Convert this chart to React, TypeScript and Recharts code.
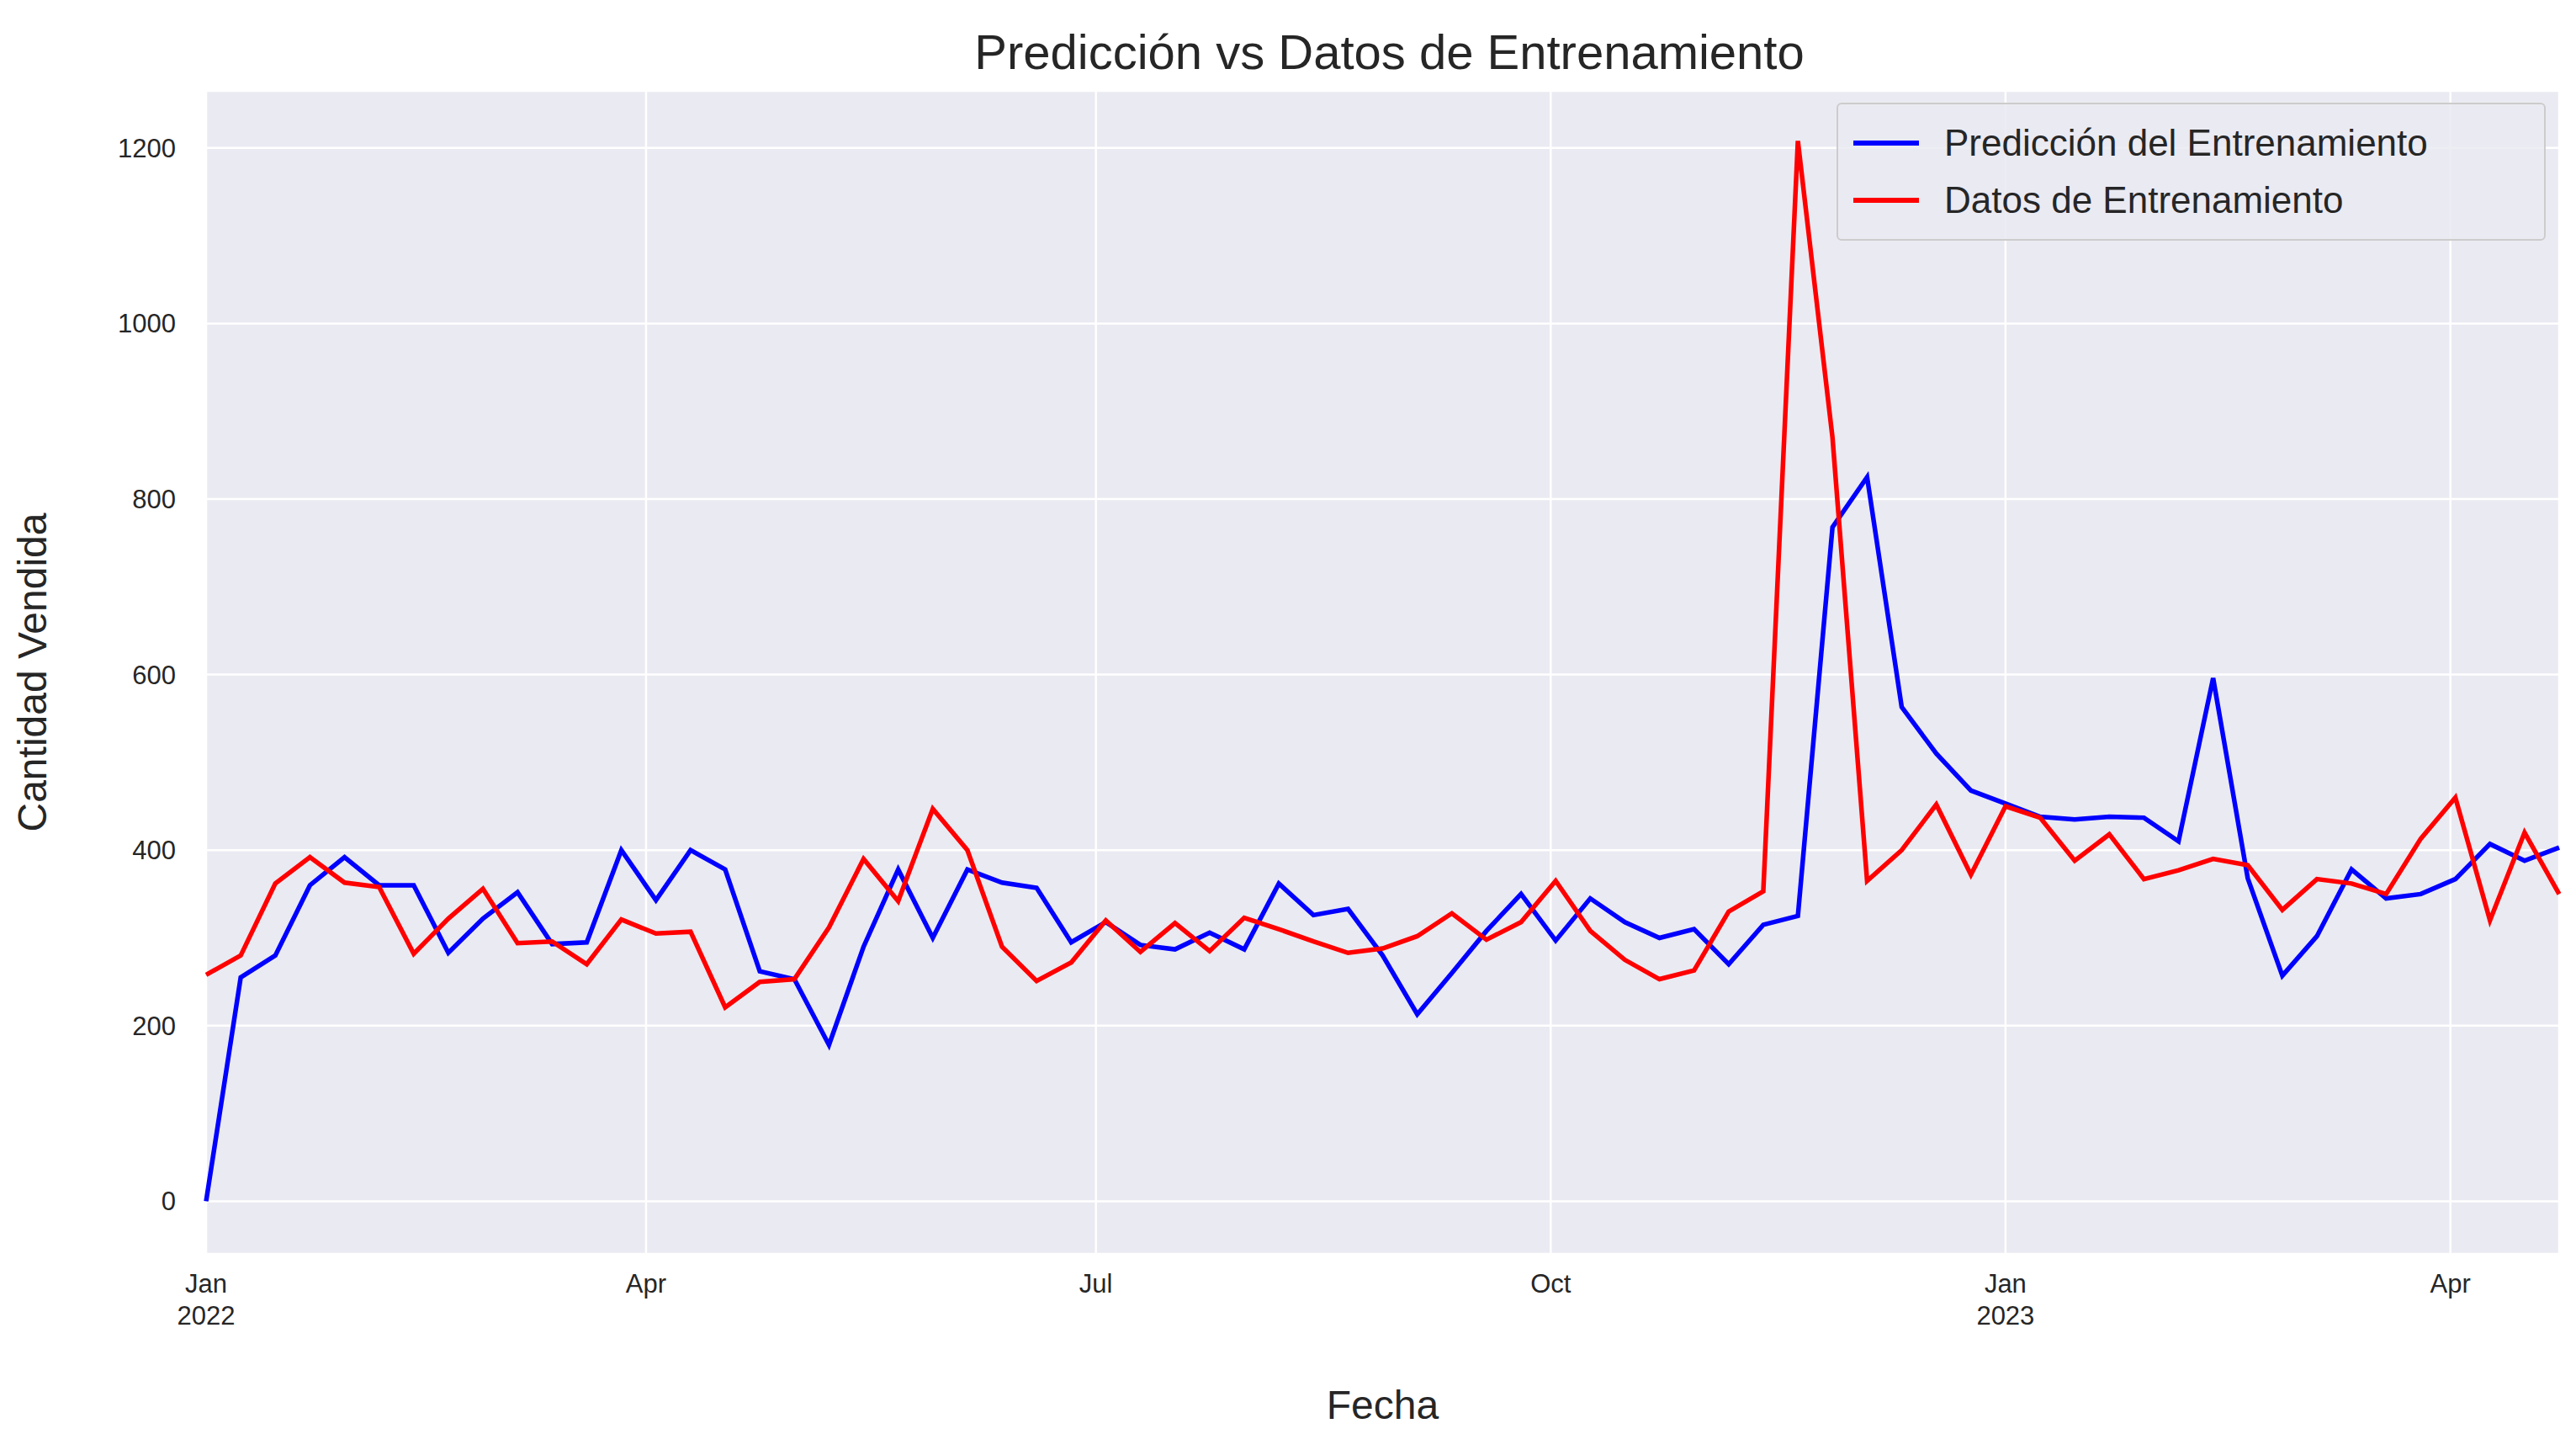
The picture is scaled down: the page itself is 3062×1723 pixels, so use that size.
import React from "react";
import { LineChart, Line, XAxis, YAxis, CartesianGrid, Label } from "recharts";

const predValues = [0,255,280,360,392,360,360,283,322,352,293,295,400,343,400,378,262,253,178,290,378,300,378,363,357,295,318,292,287,306,287,362,326,333,280,213,260,308,350,297,345,318,300,310,270,315,325,768,825,563,510,468,453,438,435,438,437,410,596,368,257,302,378,345,350,367,407,388,403];
const trainValues = [258,280,362,392,363,358,282,322,356,294,296,270,321,305,307,221,250,253,312,390,342,447,400,290,251,272,320,284,317,285,323,310,296,283,288,302,328,298,318,365,308,275,253,263,330,353,1208,870,365,400,452,372,450,437,388,418,367,377,390,383,332,367,362,350,413,460,320,420,350];
// days since 2022-01-01, weekly from 2022-01-02
const days = predValues.map((_, i) => 1 + 7 * i);
const xTicks = [1, 90, 181, 273, 365, 455];
const xTickLabels = ["Jan|2022", "Apr", "Jul", "Oct", "Jan|2023", "Apr"];
const yTicks = [0, 200, 400, 600, 800, 1000, 1200];

const data = days.map((d, i) => ({ d, pred: predValues[i], train: trainValues[i] }));
const FONT = "'Liberation Sans', Arial, sans-serif";
const TXT = "#262626";

const XTick = (props: any) => {
  const { x, y, payload } = props;
  const idx = xTicks.indexOf(payload.value);
  const parts = (xTickLabels[idx] || "").split("|");
  return (
    <text x={x} y={y + 38} textAnchor="middle" fill={TXT} fontSize={31} fontFamily={FONT}>
      {parts.map((p, i) => (
        <tspan key={i} x={x} dy={i === 0 ? 0 : 38}>{p}</tspan>
      ))}
    </text>
  );
};

export default function App() {
  return (
    <div style={{ position: "relative", width: 3046, height: 1700 }}>
      <div style={{ position: "absolute", top: 20, left: 245, width: 2797, textAlign: "center", fontFamily: FONT, fontSize: 58, color: TXT }}>
        Predicción vs Datos de Entrenamiento
      </div>
      <LineChart width={3046} height={1700} data={data} margin={{ top: 100, right: 12, left: 0, bottom: 0 }}>
        <CartesianGrid fill="#EAEAF2" stroke="#ffffff" strokeWidth={2.5} />
        <XAxis dataKey="d" type="number" domain={[1, 477]} ticks={xTicks} tick={<XTick />} axisLine={false} tickLine={false} height={218} interval={0}>
          <Label value="Fecha" position="insideBottom" offset={22} fill={TXT} fontSize={48} fontFamily={FONT} />
        </XAxis>
        <YAxis type="number" domain={[-60, 1265]} ticks={yTicks} width={237} axisLine={false} tickLine={false} tickMargin={30} tick={{ fill: TXT, fontSize: 31, fontFamily: FONT }}>
          <Label value="Cantidad Vendida" angle={-90} position="insideLeft" offset={30} fill={TXT} fontSize={48} fontFamily={FONT} style={{ textAnchor: "middle" }} />
        </YAxis>
        <Line dataKey="pred" stroke="blue" strokeWidth={5.5} dot={false} isAnimationActive={false} />
        <Line dataKey="train" stroke="red" strokeWidth={5.5} dot={false} isAnimationActive={false} />
      </LineChart>
      <div style={{ position: "absolute", top: 114, left: 2175, width: 843, height: 164, boxSizing: "border-box", background: "rgba(234,234,242,0.85)", border: "2px solid #cccccc", borderRadius: 6, fontFamily: FONT, fontSize: 44, color: TXT, padding: "12px 18px" }}>
        {[["blue", "Predicción del Entrenamiento"], ["red", "Datos de Entrenamiento"]].map(([c, t]) => (
          <div key={t} style={{ display: "flex", alignItems: "center", height: 68 }}>
            <div style={{ width: 78, height: 6, background: c, marginRight: 30 }} />
            <span>{t}</span>
          </div>
        ))}
      </div>
    </div>
  );
}
